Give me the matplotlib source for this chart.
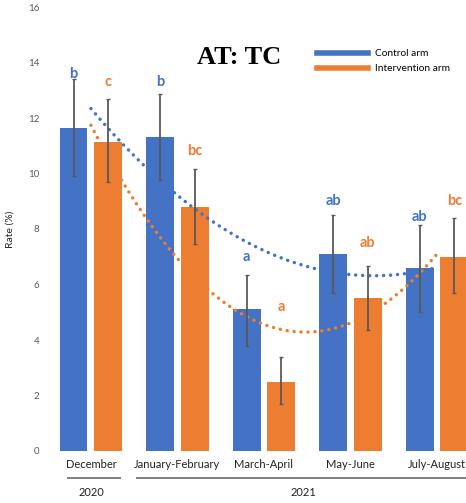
import matplotlib
matplotlib.use("Agg")
import matplotlib.pyplot as plt
import numpy as np

# Rate (%) by period, two trial arms
periods = ["December", "January-February", "March-April", "May-June", "July-August"]
control = [11.65, 11.3, 5.1, 7.1, 6.6]
control_err_lo = [9.9, 9.75, 3.8, 5.7, 5.0]
control_err_hi = [13.4, 12.85, 6.35, 8.5, 8.15]
intervention = [11.15, 8.8, 2.5, 5.5, 7.0]
intervention_err_lo = [9.7, 7.45, 1.7, 4.35, 5.7]
intervention_err_hi = [12.7, 10.15, 3.4, 6.65, 8.4]
control_letters = ["b", "b", "a", "ab", "ab"]
intervention_letters = ["c", "bc", "a", "ab", "bc"]
years = ["2020", "2021"]

BLUE = "#4472C4"
ORANGE = "#ED7D31"
GREY = "#595959"

plt.rcParams["font.family"] = ["Lato", "DejaVu Sans"]

fig = plt.figure(figsize=(4.66, 5.03), dpi=100)
ax = fig.add_axes([52 / 466, 52 / 503, 1 - 52 / 466, 444 / 503])

x = np.arange(len(periods))
w = 0.32
off = 0.2

def err(vals, lo, hi):
    v = np.array(vals)
    return [v - np.array(lo), np.array(hi) - v]

ax.bar(x - off, control, w, color=BLUE, zorder=2)
ax.bar(x + off, intervention, w, color=ORANGE, zorder=2)
ax.errorbar(x - off, control, yerr=err(control, control_err_lo, control_err_hi),
            fmt="none", ecolor=GREY, elinewidth=1.3, capsize=1.5, zorder=4)
ax.errorbar(x + off, intervention, yerr=err(intervention, intervention_err_lo, intervention_err_hi),
            fmt="none", ecolor=GREY, elinewidth=1.3, capsize=1.5, zorder=4)

# second-order polynomial trendlines through the category centres
xs = np.linspace(0, len(periods) - 1, 200)
for vals, col in [(control, BLUE), (intervention, ORANGE)]:
    coef = np.polyfit(x, vals, 2)
    ax.plot(xs, np.polyval(coef, xs), color=col, lw=2.5,
            linestyle=(0, (0.01, 2.0)), dash_capstyle="round", zorder=3)

# significance letters
ctrl_letter_y = [13.6, 13.3, 7.0, 9.0, 8.45]
int_letter_y = [13.3, 10.8, 5.2, 7.5, 9.0]
for i in range(len(periods)):
    ax.text(x[i] - off, ctrl_letter_y[i], control_letters[i], color=BLUE,
            ha="center", va="center", fontsize=10.5, fontweight="bold")
    ax.text(x[i] + off, int_letter_y[i], intervention_letters[i], color=ORANGE,
            ha="center", va="center", fontsize=10.5, fontweight="bold")

ax.set_xlim(-0.45, 4.335)
ax.set_ylim(0, 16)
ax.set_yticks(np.arange(0, 17, 2))
ax.set_xticks(x)
ax.set_xticklabels(periods)
ax.tick_params(axis="both", length=0)
ax.tick_params(axis="x", pad=6, labelcolor="#222222", labelsize=8)
ax.tick_params(axis="y", pad=9, labelcolor=GREY, labelsize=7)
for s in ax.spines.values():
    s.set_visible(False)
ax.set_ylabel("Rate (%)", fontsize=7.5, color="#222222", labelpad=10)

# year brackets under the period labels
trans = ax.get_xaxis_transform()
spans = [(-0.27, 0.34), (0.53, 4.5)]
year_x = [0, 2.45]
for (a, b), xc, yr in zip(spans, year_x, years):
    ax.plot([a, b], [-0.061, -0.061], color="#7F7F7F", lw=1.4,
            transform=trans, clip_on=False)
    ax.text(xc, -0.093, yr, transform=trans, ha="center", va="center",
            fontsize=8, color="#222222")

fig.text(239 / 466, 1 - 58 / 503, "AT: TC", family="Liberation Serif",
         fontweight="bold", fontsize=19, ha="center", va="center")
fig.legend(loc="upper left", bbox_to_anchor=(308 / 466, 1 - 40 / 503), frameon=False,
           fontsize=7.3, handlelength=5.0, handleheight=0.6, labelspacing=0.6,
           handletextpad=0.7,
           handles=[plt.Line2D([], [], color=BLUE, lw=4),
                    plt.Line2D([], [], color=ORANGE, lw=4)],
           labels=["Control arm", "Intervention arm"])

fig.savefig("out.png", dpi=100)
